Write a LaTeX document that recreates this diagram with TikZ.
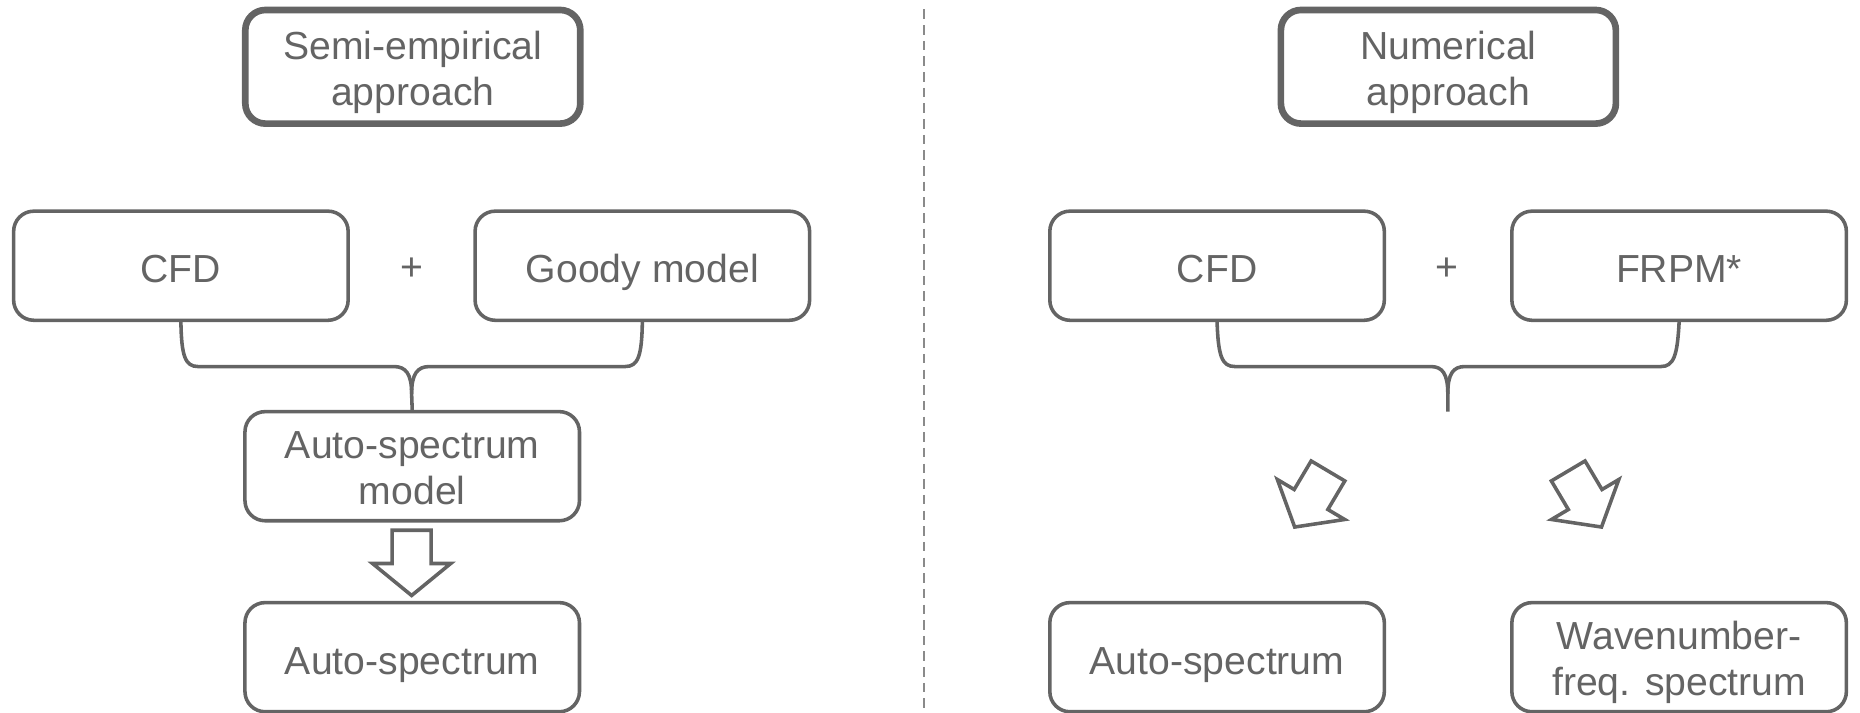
\documentclass[tikz,border=0pt]{standalone}
\usepackage{fontspec}
\setmainfont{Liberation Sans}
\definecolor{ink}{HTML}{646464}
\definecolor{dashc}{HTML}{8A8A8A}
\newcommand\boxstrut{\rule[-0.21em]{0pt}{1.30em}}
\newcommand\topstrut{\rule{0pt}{1.0em}}
\newcommand\botstrut{\rule[-0.21em]{0pt}{0.21em}}
\newcommand\twolines[2]{\topstrut#1\\#2\botstrut}
\begin{document}
\begin{tikzpicture}[x=0.5pt,y=-0.5pt,
  box/.style={draw=ink,line width=1.5pt,rounded corners=8.5pt,minimum width=141pt,minimum height=46pt,inner sep=0pt,align=center,text=ink,font=\fontsize{16.5}{19.5}\selectfont},
  topbox/.style={box,line width=2.8pt,minimum width=141.2pt,minimum height=47.9pt},
  plus/.style={text=ink,font=\fontsize{16.5}{19.5}\selectfont,inner sep=0pt},
  brace/.style={draw=ink,line width=1.5pt},
  blockarrow/.style={draw=ink,line width=1.5pt,line join=miter}]
\useasboundingbox (0,0) rectangle (1568,601);
% divider
\draw[dashc,line width=0.7pt,dash pattern=on 4pt off 2.6pt] (779,8) -- (779,601);
% left side
\node[topbox] (semi) at (348,56.3) {\twolines{Semi-empirical}{approach}};
\node[box] (cfdL) at (152.5,224) {\boxstrut CFD};
\node[box] (goody) at (541.5,224) {\boxstrut Goody model};
\node[plus] (plusL) at (347,227) {+};
\node[box] (asm) at (347.5,393) {\twolines{Auto-spectrum}{model}};
\node[box] (asL) at (347.5,554) {\boxstrut Auto-spectrum};
\draw[brace] (cfdL.south) .. controls (153,300) and (156,309) .. (167,309) -- (332,309) .. controls (342,309) and (347,315) .. (347,332) -- (asm.north);
\draw[brace] (goody.south) .. controls (541,300) and (538,309) .. (527,309) -- (362,309) .. controls (352,309) and (347,315) .. (347,332);
% down block arrow
\draw[blockarrow] (330.5,447) -- (363.5,447) -- (363.5,475) -- (380,475) -- (347,502) -- (314,475) -- (330.5,475) -- cycle;
% right side
\node[topbox] (num) at (1221,56.3) {\twolines{Numerical}{approach}};
\node[box] (cfdR) at (1026,224) {\boxstrut CFD};
\node[box] (frpm) at (1415.5,224) {\boxstrut FRPM*};
\node[plus] (plusR) at (1220,227) {+};
\node[box] (asR) at (1026,554) {\boxstrut Auto-spectrum};
\node[box] (wave) at (1415.5,554) {\twolines{Wavenumber-}{freq. spectrum}};
\coordinate (tipR) at (1220.5,347);
\draw[brace] (cfdR.south) .. controls (1027,300) and (1030,309) .. (1041,309) -- (1206,309) .. controls (1216,309) and (1220.5,315) .. (1220.5,332) -- (tipR);
\draw[brace] (frpm.south) .. controls (1414,300) and (1411,309) .. (1400,309) -- (1235,309) .. controls (1225,309) and (1220.5,315) .. (1220.5,332);
% diagonal block arrows
\begin{scope}[shift={(1119.5,397)},rotate=-30.7]
\draw[blockarrow] (-16.5,0) -- (16.5,0) -- (16.5,28) -- (33,28) -- (0,55) -- (-33,28) -- (-16.5,28) -- cycle;
\end{scope}
\begin{scope}[shift={(1322,397)},rotate=30.7]
\draw[blockarrow] (-16.5,0) -- (16.5,0) -- (16.5,28) -- (33,28) -- (0,55) -- (-33,28) -- (-16.5,28) -- cycle;
\end{scope}
\end{tikzpicture}
\end{document}
